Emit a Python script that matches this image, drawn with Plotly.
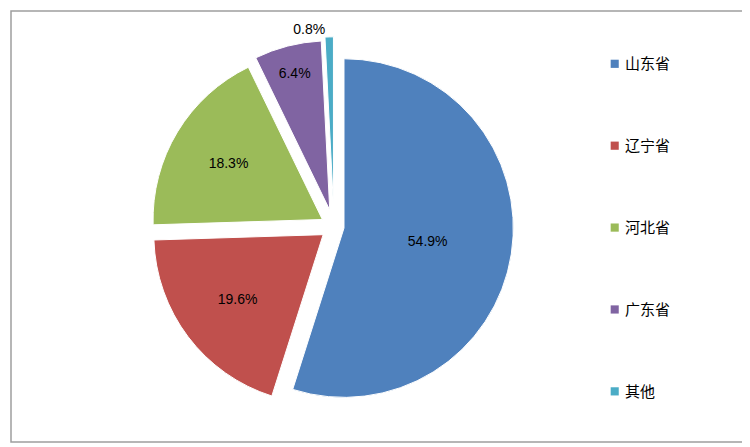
import plotly.graph_objects as go

labels = ["山东省", "辽宁省", "河北省", "广东省", "其他"]
values = [54.9, 19.6, 18.3, 6.4, 0.8]
colors = ["#4F81BD", "#C0504D", "#9BBB59", "#8064A2", "#4BACC6"]

fig = go.Figure(go.Pie(
    labels=labels, values=values, sort=False, direction="clockwise", rotation=0,
    marker=dict(colors=colors, line=dict(color="white", width=1)),
    pull=[0.06, 0.08, 0.08, 0.1, 0.12],
    texttemplate="%{value:.1f}%",
    textposition=["inside", "inside", "inside", "inside", "outside"],
    insidetextorientation="horizontal",
    textfont=dict(size=14, color="black", family="Liberation Sans"),
    domain=dict(x=[0.1, 0.78], y=[0.06, 0.94]),
    showlegend=False,
))

shapes = [dict(type="rect", xref="paper", yref="paper", x0=0, y0=0, x1=1, y1=1,
               line=dict(color="#9E9E9E", width=1.5))]
annotations = []
for i, (lab, c) in enumerate(zip(labels, colors)):
    y = 0.88 - i * 0.19
    shapes.append(dict(type="rect", xref="paper", yref="paper",
                       x0=0.817, x1=0.828, y0=y - 0.012, y1=y + 0.007, fillcolor=c, line=dict(width=0)))
    annotations.append(dict(xref="paper", yref="paper", x=0.834, y=y, text=lab, showarrow=False,
                            xanchor="left", yanchor="middle",
                            font=dict(size=15, color="black", family="Noto Sans CJK SC")))

fig.update_layout(width=740, height=437, margin=dict(l=3, r=3, t=3, b=3, autoexpand=False),
                  paper_bgcolor="white", shapes=shapes, annotations=annotations)
fig.write_html("out.html", config=dict(responsive=False))
